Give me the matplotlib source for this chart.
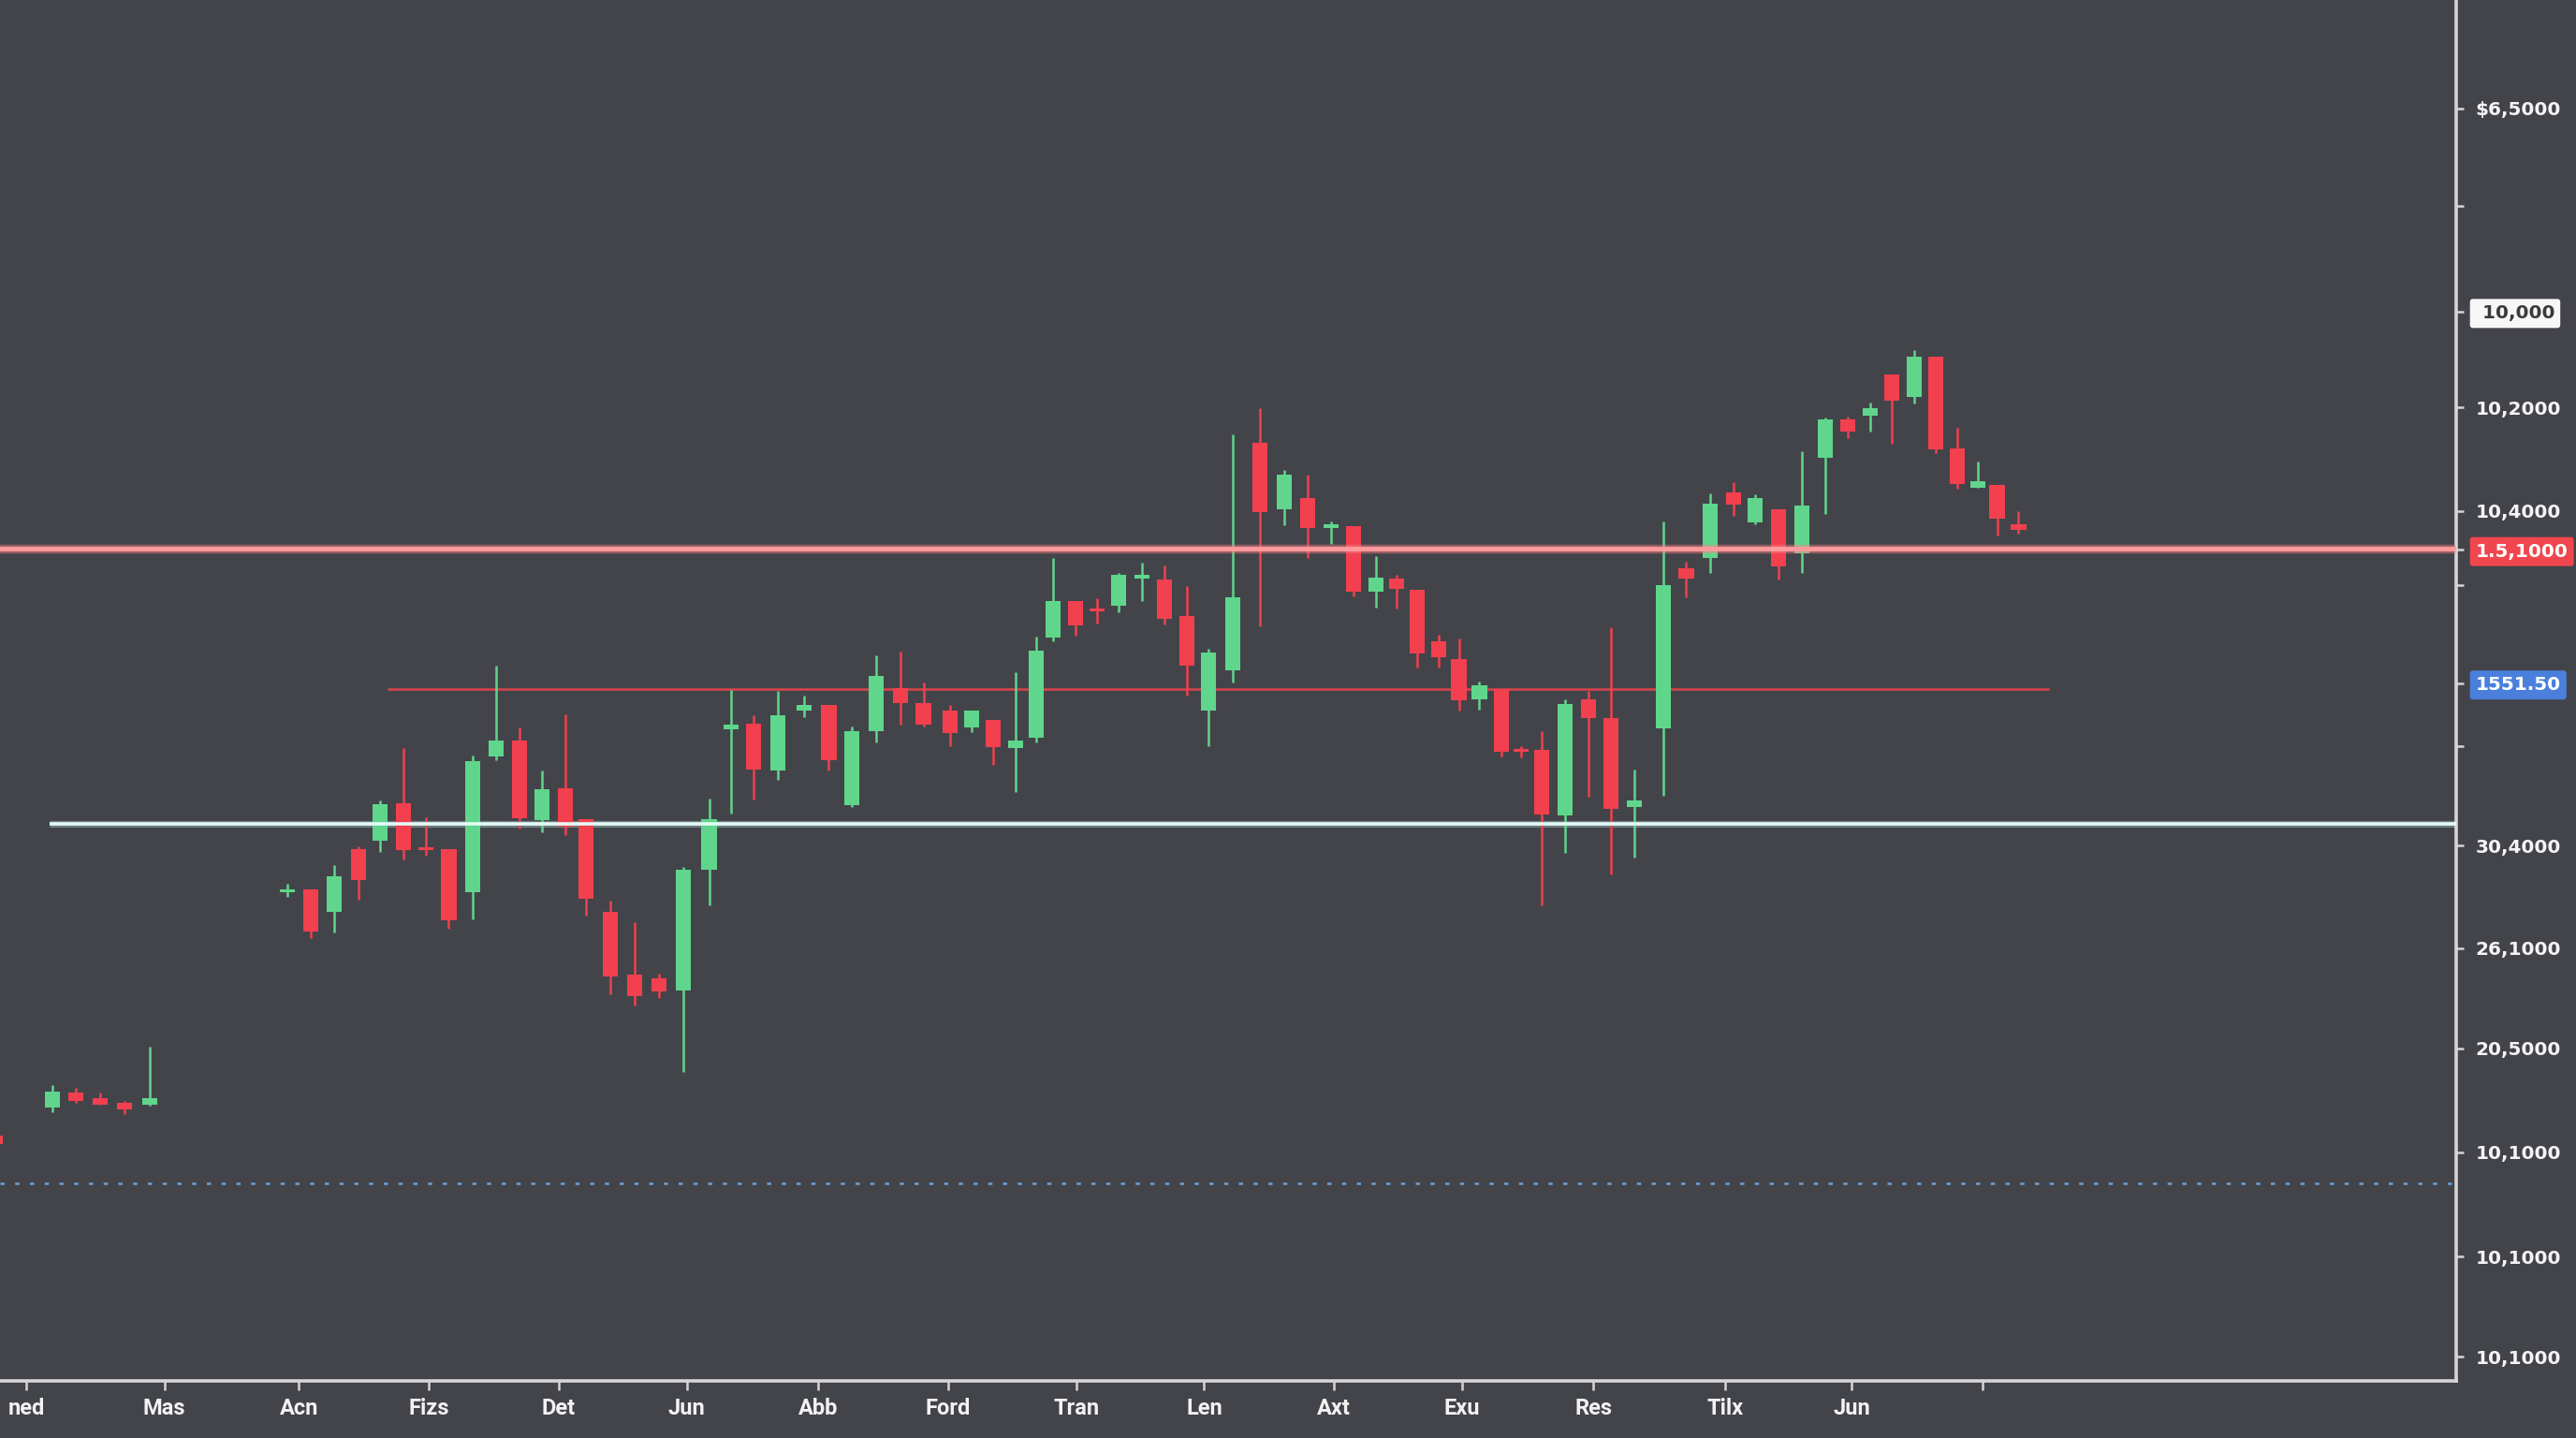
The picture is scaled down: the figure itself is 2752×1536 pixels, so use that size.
"""candlestick chart, dark theme, with level lines and boxed price tags."""
import matplotlib
matplotlib.use("Agg")
import matplotlib.pyplot as plt

# candles: slot position, open, close, high, low (chart price units)
xs = [-3, 32, 46, 61, 76, 91,
      175, 189, 203.5, 218, 231.5, 245.7, 259.2, 273.2, 287.5, 302.2,
      316.2, 330, 344, 356.7, 371.4, 386.2, 401.2, 415.9, 431.6, 445,
      458.8, 473.3, 489.5, 504.5, 518.5, 533.1, 548.2, 562.1, 578.4, 591.2,
      604.5, 618.1, 630.9, 641.1, 654.7, 668, 680.8, 695, 708.6, 722.5,
      735.7, 750.4, 766.8, 781.9, 796.1, 810, 823.8, 837.4, 850.3, 862.5,
      875.5, 888, 900.5, 913.8, 926, 938.6, 952.8, 966.7, 980.5, 994.8,
      1012.4, 1026.4, 1041.2, 1055.2, 1068.5, 1082.6, 1096.6, 1111, 1124.5, 1138.2,
      1151.7, 1165.2, 1178.5, 1191.4, 1204, 1215.6, 1228.7]
opens = [149, 166, 175, 172, 169, 168,
         297.2, 298.6, 285.2, 323.6, 328.6, 351.2, 324, 323.6, 297.2, 379.6,
         389.2, 341.2, 360.4, 341.6, 285.2, 247.2, 244.6, 237.2, 311, 396,
         399.5, 371.3, 407.5, 411.3, 350, 395, 421.2, 412, 407.5, 397.4,
         401.8, 385, 391, 452.3, 474.5, 469.4, 471.7, 487.7, 487.3, 465,
         407.5, 432, 570.8, 530.3, 536.8, 518.5, 519.9, 480.2, 487.8, 481.2,
         449.9, 438.7, 414.3, 420.8, 383.8, 383.8, 343.9, 414.7, 403.1, 349,
         396.8, 494.1, 500.7, 540.1, 522, 530.3, 503.5, 561.3, 584.6, 587,
         612.1, 598.3, 622.8, 567.4, 543.2, 544.7, 521]
closes = [144, 176, 170, 168, 165, 172,
          298.2, 273.2, 306.6, 304.6, 350.6, 323, 322.6, 280, 376.6, 389.2,
          342.4, 360, 337.2, 293.2, 246, 233.6, 236.6, 310.6, 341.7, 399,
          371.7, 404.5, 411, 377.3, 395.3, 428.5, 412, 398.8, 394.1, 407.5,
          385.6, 389.6, 444, 474.5, 459.4, 468, 490, 490.4, 463.3, 435,
          443, 476.8, 528.3, 551, 518.5, 521, 479.8, 488.6, 481.4, 442.2,
          439.9, 413.7, 422.8, 382.7, 382.7, 344.5, 411.7, 402.9, 348, 353.2,
          483.7, 488, 533.4, 532.9, 536.9, 495.4, 532.3, 584.8, 577.2, 591.8,
          596.2, 622.8, 566.7, 545.4, 547.1, 524.2, 517.7]
highs = [150, 180, 178, 175, 170, 203,
         302, 298.6, 313.6, 325.2, 353, 384.6, 342.6, 323.6, 380, 435,
         397.6, 371, 405.2, 341.6, 292.2, 278.6, 247.6, 312.6, 354.1, 420.2,
         405, 419.7, 416.5, 411.3, 397.9, 441, 443.6, 424.8, 411, 407.5,
         401.8, 430.7, 452.7, 500.5, 474.5, 476.1, 491.4, 497.9, 496.1, 483.4,
         445, 575.5, 591.7, 554.1, 551, 522.6, 519.9, 501.6, 490, 481.2,
         453.8, 451.7, 425.3, 420.8, 386.2, 395, 414.7, 419.8, 458.5, 372,
         522.5, 498.1, 539.9, 546.7, 539.5, 530.3, 565.2, 585.7, 586.4, 595.1,
         612.1, 627.1, 622.8, 579.8, 559.1, 544.7, 529]
lows = [143, 163, 169, 168, 162, 167,
        294, 269.2, 272.6, 292.6, 321.6, 317.2, 319.2, 275, 280.6, 377.2,
        335.6, 333.6, 331.6, 282.6, 235.2, 228, 233, 187.6, 289.3, 344.9,
        353.6, 365.7, 403.8, 371.2, 348.8, 388.2, 398.8, 397.8, 386.2, 394.7,
        374.4, 358.1, 388.2, 449.7, 453.1, 460.5, 467.4, 474.1, 459.8, 416.7,
        386.2, 424.9, 459, 520.5, 500.2, 509.3, 477.4, 470.3, 469.6, 434,
        434, 407.6, 408.2, 379.5, 379.1, 289, 321.1, 355.3, 307.9, 318,
        356, 476.5, 491.1, 526.4, 521, 487.2, 491.5, 527.5, 573.3, 577.6,
        570, 594.6, 564.1, 542.7, 543.2, 514.4, 515.1]

# horizontal levels
resistance = 506
mid_level = 420.5
support = 338.5
dotted_level = 120

x_ticks = [16, 100, 182, 261, 340, 418, 498, 577, 655, 733, 812, 890, 970, 1050, 1127, 1207]
x_labels = ["ned", "Mas", "Acn", "Fizs", "Det", "Jun", "Abb", "Ford", "Tran", "Len",
            "Axt", "Exu", "Res", "Tilx", "Jun", ""]

y_ticks = [774, 714.5, 650.4, 592, 529, 505.5, 484, 424.3, 386, 325.5, 263, 202, 139, 75.3, 14.4]
y_labels = [r"\$6,5000", "", " 10,000", "10,2000", "10,4000", "1.5,1000", "", "1551.50", "",
            "30,4000", "26,1000", "20,5000", "10,1000", "10,1000", "10,1000"]

BG = "#434449"
UP = "#5fd68c"
DOWN = "#f2404f"
AXIS = "#d6d6d8"

fig = plt.figure(figsize=(13.76, 7.68), dpi=200, facecolor=BG)
ax = fig.add_axes([0, 0.04, 1495 / 1568, 0.96])
ax.set_facecolor(BG)

# level lines
ax.axhline(dotted_level, color="#6d9fd6", lw=0.9, dashes=(1.8, 4.5), zorder=1)
ax.hlines(mid_level, 236, 1247, color="#d9444b", lw=0.9, zorder=1)
ax.hlines(support, 30, 1495, color="#bff0ea", lw=2.6, alpha=0.35, zorder=1)
ax.hlines(support, 30, 1495, color="#e4fbf7", lw=1.3, zorder=4)

# candles
for x, o, c, h, l in zip(xs, opens, closes, highs, lows):
    col = UP if c >= o else DOWN
    ax.vlines(x, l, h, color=col, lw=0.9, zorder=2)
    ax.bar(x, max(abs(c - o), 1.6), bottom=min(o, c), width=9.2, color=col,
           linewidth=0, zorder=3)

ax.axhline(resistance, color="#ff7f85", lw=3.4, alpha=0.45, zorder=5)
ax.axhline(resistance, color="#ff9a9c", lw=1.8, zorder=5)

ax.set_xlim(0, 1495)
ax.set_ylim(0, 840)

for side in ("left", "top"):
    ax.spines[side].set_visible(False)
for side in ("bottom", "right"):
    ax.spines[side].set_color(AXIS)
    ax.spines[side].set_linewidth(1.3)

ax.set_xticks(x_ticks)
ax.set_xticklabels(x_labels, family=["Liberation Sans Narrow", "Roboto", "DejaVu Sans"],
                   fontweight="bold", fontsize=8.5, color="#f2f2f2")
ax.tick_params(axis="x", direction="out", length=3.6, width=0.9, color=AXIS, pad=3)

ax.yaxis.tick_right()
ax.set_yticks(y_ticks)
ax.set_yticklabels(y_labels, fontweight="bold", fontsize=7.2, color="#f4f4f4")
ax.tick_params(axis="y", direction="out", length=3.0, width=0.9, color=AXIS, pad=4.5)

# tagged price labels
tags = {" 10,000": ("#f7f7f7", "#3a3a3e"), "1.5,1000": ("#f0464e", "#ffffff"),
        "1551.50": ("#4a80dc", "#ffffff")}
for lab in ax.get_yticklabels():
    txt = lab.get_text()
    if txt in tags:
        fc, tc = tags[txt]
        lab.set_color(tc)
        lab.set_bbox(dict(boxstyle="round,pad=0.3,rounding_size=0.15", fc=fc, ec="none"))

fig.savefig("out.png", dpi=200, facecolor=BG)
